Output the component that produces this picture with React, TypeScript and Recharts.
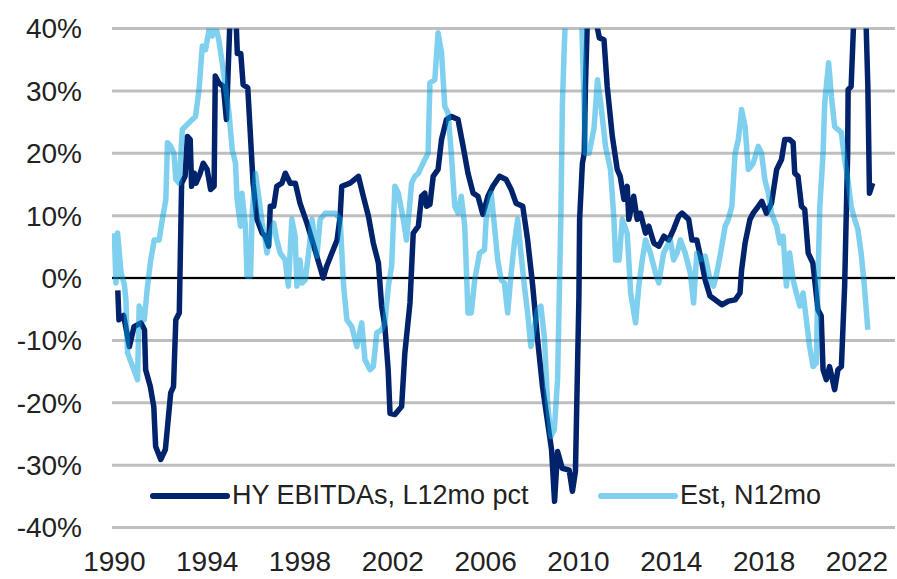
import React from 'react';
import { LineChart, Line, XAxis, YAxis, CartesianGrid, ReferenceLine, Legend } from 'recharts';

const FONT = '"Liberation Sans", Arial, sans-serif';

const yearTicks = [1990, 1994, 1998, 2002, 2006, 2010, 2014, 2018, 2022];
const pctTicks = [-40, -30, -20, -10, 0, 10, 20, 30, 40];

const seriesNames = ['HY EBITDAs, L12mo pct', 'Est, N12mo'];

// HY EBITDAs, L12mo pct (values above 40% are clipped by the axis)
const ebitdaYears = [
  1990.15, 1990.2, 1990.4, 1990.65, 1990.85, 1991.15, 1991.3, 1991.35, 1991.55, 1991.7,
  1991.78, 1992.0, 1992.2, 1992.43, 1992.55, 1992.65, 1992.8, 1992.9, 1993.05, 1993.15,
  1993.27, 1993.33, 1993.45, 1993.52, 1993.7, 1993.83, 1994.0, 1994.15, 1994.3, 1994.35,
  1994.5, 1994.7, 1994.83, 1994.97, 1995.05, 1995.2, 1995.3, 1995.45, 1995.55, 1995.75,
  1995.98, 1996.15, 1996.37, 1996.5, 1996.65, 1996.72, 1996.87, 1997.0, 1997.22, 1997.37,
  1997.58, 1997.8, 1998.0, 1998.3, 1998.6, 1999.0, 1999.15, 1999.6, 1999.73, 1999.8,
  2000.16, 2000.52, 2000.73, 2000.95, 2001.16, 2001.38, 2001.52, 2001.66, 2001.8, 2001.88,
  2002.09, 2002.38, 2002.52, 2002.74, 2002.88, 2003.1, 2003.24, 2003.38, 2003.45, 2003.6,
  2003.74, 2003.95, 2004.1, 2004.31, 2004.53, 2004.81, 2005.03, 2005.24, 2005.46, 2005.67,
  2005.88, 2006.1, 2006.31, 2006.6, 2006.88, 2007.1, 2007.31, 2007.6, 2007.81, 2008.03,
  2008.24, 2008.45, 2008.74, 2008.84, 2008.97, 2009.1, 2009.3, 2009.6, 2009.74, 2009.87,
  2010.02, 2010.05, 2010.17, 2010.25, 2010.3, 2010.39, 2010.6, 2010.82, 2010.9, 2011.1,
  2011.24, 2011.46, 2011.67, 2011.8, 2011.96, 2012.1, 2012.17, 2012.38, 2012.53, 2012.67,
  2012.89, 2013.03, 2013.25, 2013.46, 2013.68, 2013.89, 2014.1, 2014.32, 2014.46, 2014.75,
  2014.89, 2015.1, 2015.32, 2015.46, 2015.67, 2015.89, 2016.18, 2016.46, 2016.75, 2016.96,
  2017.03, 2017.18, 2017.39, 2017.53, 2017.75, 2017.9, 2018.1, 2018.32, 2018.54, 2018.75,
  2018.89, 2019.1, 2019.25, 2019.32, 2019.46, 2019.61, 2019.75, 2019.9, 2020.1, 2020.18,
  2020.32, 2020.46, 2020.54, 2020.68, 2020.82, 2021.04, 2021.18, 2021.33, 2021.47, 2021.6,
  2021.62, 2021.75, 2021.9, 2022.1, 2022.35, 2022.4, 2022.47, 2022.54, 2022.68,
];
const ebitdaPct = [
  -2, -6.7, -6, -11, -7.8, -7.2, -8.3, -14.7, -17.4, -20.6,
  -27, -29.1, -27.5, -18.4, -17.4, -6.7, -5.6, 15.2, 16.3, 22.7,
  22.2, 14.7, 16.8, 15.2, 16.8, 18.4, 17.4, 14.2, 14.7, 32.4,
  31.3, 30.7, 25.4, 40, 46, 46, 36, 36, 31, 30.5,
  15.2, 9.4, 7.2, 6.7, 5.1, 11.5, 11.5, 14.7, 15.2, 16.8,
  15.2, 15.2, 12, 8.8, 5.1, 0, 1.9, 6.1, 9.9, 14.7,
  15.2, 16.3, 13.1, 9.9, 5.6, 2.4, -4.5, -7.8, -14.7, -21.7,
  -21.9, -20.6, -12, -4, 7.2, 8.3, 13.1, 13.6, 11.5, 11.8,
  16.3, 17.4, 22.2, 25.4, 25.9, 25.4, 21.1, 16.8, 13.6, 13.1,
  10.2, 13.1, 14.7, 16.3, 15.8, 14.2, 12, 11.5, 6.1, -1.3,
  -9.9, -17.4, -24.9, -27.5, -35.8, -27.8, -30.5, -30.8, -34.2, -31,
  -3, 9.4, 18.4, 20, 30.7, 42, 46, 40, 38.5, 38.2,
  30.7, 22.7, 17.4, 16.3, 12.6, 14.7, 9.4, 13.1, 9.4, 10.4,
  7.2, 8.3, 5.6, 5.1, 6.7, 6.1, 7.8, 9.9, 10.4, 9.4,
  6.1, 6.1, 2.4, -0.3, -2.9, -3.5, -4.3, -3.7, -3.5, -2.4,
  1.3, 5.6, 9.4, 10.4, 11.5, 12.3, 10.4, 12, 17.4, 19,
  22.2, 22.2, 21.7, 16.8, 16.3, 11.5, 11, 4, 2.4, -0.3,
  -5.1, -6.1, -14.7, -16.3, -14.2, -17.9, -14.7, -14.2, -1.3, 20,
  30.2, 30.7, 45, 52, 45, 40, 30.7, 13.6, 15.2,
];

// Est, N12mo
const estYears = [
  1990.0, 1990.07, 1990.14, 1990.29, 1990.43, 1990.5, 1990.57, 1990.79, 1991.0, 1991.07,
  1991.29, 1991.43, 1991.57, 1991.72, 1991.93, 1992.07, 1992.22, 1992.29, 1992.43, 1992.57,
  1992.65, 1992.79, 1992.93, 1993.22, 1993.36, 1993.5, 1993.65, 1993.79, 1993.93, 1994.08,
  1994.22, 1994.36, 1994.5, 1994.65, 1994.79, 1994.94, 1995.08, 1995.22, 1995.29, 1995.44,
  1995.5, 1995.65, 1995.72, 1995.87, 1995.94, 1996.08, 1996.22, 1996.37, 1996.5, 1996.58,
  1996.72, 1996.87, 1997.0, 1997.15, 1997.36, 1997.5, 1997.65, 1997.79, 1997.87, 1998.0,
  1998.09, 1998.23, 1998.37, 1998.52, 1998.73, 1998.87, 1999.09, 1999.3, 1999.52, 1999.73,
  1999.88, 2000.02, 2000.23, 2000.45, 2000.66, 2000.8, 2001.02, 2001.16, 2001.31, 2001.52,
  2001.66, 2001.81, 2001.95, 2002.09, 2002.24, 2002.45, 2002.59, 2002.81, 2002.95, 2003.1,
  2003.24, 2003.38, 2003.52, 2003.6, 2003.81, 2003.95, 2004.1, 2004.24, 2004.38, 2004.52,
  2004.67, 2004.81, 2004.95, 2005.1, 2005.24, 2005.38, 2005.53, 2005.74, 2005.95, 2006.02,
  2006.24, 2006.38, 2006.52, 2006.67, 2006.81, 2006.95, 2007.1, 2007.24, 2007.38, 2007.52,
  2007.67, 2007.81, 2007.95, 2008.1, 2008.24, 2008.38, 2008.53, 2008.67, 2008.81, 2008.96,
  2009.1, 2009.24, 2009.31, 2009.38, 2009.46, 2009.7, 2010.0, 2010.15, 2010.3, 2010.46,
  2010.67, 2010.82, 2010.96, 2011.17, 2011.38, 2011.53, 2011.6, 2011.75, 2011.89, 2012.1,
  2012.25, 2012.46, 2012.6, 2012.75, 2012.89, 2013.1, 2013.32, 2013.46, 2013.67, 2013.82,
  2013.96, 2014.1, 2014.25, 2014.39, 2014.6, 2014.82, 2014.96, 2015.1, 2015.25, 2015.46,
  2015.67, 2015.82, 2015.96, 2016.1, 2016.32, 2016.46, 2016.61, 2016.75, 2016.89, 2017.03,
  2017.18, 2017.32, 2017.53, 2017.75, 2017.89, 2018.03, 2018.18, 2018.32, 2018.54, 2018.68,
  2018.82, 2018.96, 2019.1, 2019.25, 2019.39, 2019.54, 2019.68, 2019.82, 2019.96, 2020.11,
  2020.25, 2020.32, 2020.4, 2020.54, 2020.61, 2020.68, 2020.78, 2020.9, 2021.04, 2021.18,
  2021.33, 2021.47, 2021.61, 2021.75, 2021.9, 2022.04, 2022.18, 2022.32, 2022.47,
];
const estPct = [
  7.2, -0.8, 7.2, 0.8, -1, -3.5, -12, -14.2, -16.3, -4.5,
  -6.7, -1.3, 2.9, 6.1, 6.1, 9.4, 12.6, 21.7, 21.1, 20,
  15.8, 15.2, 23.8, 24.9, 25.4, 25.9, 30.2, 37.2, 36.6, 39.8,
  38.8, 40.5, 38.2, 34.5, 30.7, 26.5, 20.6, 18.4, 12.6, 8.3,
  13.6, 8.3, 0.3, 0.3, 10.4, 16.8, 13.1, 8.8, 6.1, 4,
  7.2, 8.8, 6.1, 4, 2.9, -1.3, 9.4, 6.7, -1.3, 2.9,
  -0.8, -0.3, 4, 9.4, 3.5, 9.4, 10.4, 10.4, 10.4, 9.4,
  -1.3, -6.7, -7.8, -11, -7.2, -13.1, -14.7, -14.2, -8.8, -8.3,
  -7.2, -1.3, 1.9, 14.7, 13.6, 9.4, 6.1, 15.2, 16.3, 16.8,
  17.9, 19, 20, 31.3, 31.8, 39.3, 36.1, 27.5, 26.5, 20,
  11.5, 10.4, 13.1, 8.3, -5.6, -5.6, -0.3, 4, 4.5, 9.4,
  13.6, 8.3, 2.9, -0.3, -0.8, -5.6, 0.8, 5.6, 9.4, 4,
  -1.3, -5.6, -11, -7.8, -5.1, -4.5, -9.4, -20, -25.4, -24.3,
  -16.3, 9.4, 28.1, 36.1, 44, 48, 44, 40, 20, 20,
  24, 31.8, 28, 21, 17.4, 9.4, 2.9, 2.9, 9.4, 7.2,
  -2.4, -7.2, -1.3, 2.9, 6.1, 4, 0.8, -0.8, 4, 5.1,
  6.1, 2.9, 4, 6.1, 4, 0.8, -4, 4, 2.9, 3.5,
  -0.3, -1.3, 0.8, 3.5, 8.3, 9.4, 11.5, 20, 22.2, 27,
  24.3, 17.4, 18.4, 21.1, 20, 15.8, 13.6, 10.4, 8.3, 5.6,
  6.7, -1.3, 4, -0.3, -2.4, -4.5, -2.4, -6.7, -11, -14.2,
  -13.6, -0.3, 11.5, 20, 28, 30.7, 34.5, 29.1, 24.3, 23.8,
  23.3, 19, 15.8, 11.5, 9.4, 7.8, 4, -1.3, -8.3,
];

const ebitdaData = ebitdaYears.map((year, i) => ({ year, value: ebitdaPct[i] }));
const estData = estYears.map((year, i) => ({ year, value: estPct[i] }));

const NAVY = '#00236b';
const SKY = '#00a0e0';
const SKY_OPACITY = 0.5;

const renderLegend = (props: any) => {
  const payload: any[] = props.payload || [];
  const ordered = seriesNames
    .map((name) => payload.find((p) => p.value === name))
    .filter(Boolean);
  return (
    <div style={{ display: 'flex', alignItems: 'center', fontFamily: FONT, fontSize: 27, color: '#222' }}>
      {ordered.map((entry: any, i: number) => (
        <div
          key={entry.value}
          style={{ display: 'flex', alignItems: 'center', width: i === 0 ? 448 : undefined }}
        >
          <svg width={80} height={10} style={{ display: 'block' }}>
            <line
              x1={3}
              y1={5}
              x2={77}
              y2={5}
              stroke={entry.color}
              strokeOpacity={entry.color === SKY ? SKY_OPACITY : 1}
              strokeWidth={6}
              strokeLinecap="round"
            />
          </svg>
          <span style={{ marginLeft: 2, whiteSpace: 'nowrap' }}>{entry.value}</span>
        </div>
      ))}
    </div>
  );
};

const App: React.FC = () => {
  return (
    <div style={{ position: 'absolute', left: 0, top: 0, background: '#fff' }}>
      <LineChart width={897} height={579} margin={{ top: 28.5, right: 2, bottom: 0, left: 0 }}>
        <CartesianGrid vertical={false} stroke="#bfbfbf" strokeWidth={3} />
        <XAxis
          type="number"
          dataKey="year"
          domain={[1989.9, 2023.64]}
          ticks={yearTicks}
          allowDataOverflow
          axisLine={false}
          tickLine={false}
          tickSize={0}
          tickMargin={24}
          height={51.5}
          tick={{ fontFamily: FONT, fontSize: 28, fill: '#222' }}
        />
        <YAxis
          type="number"
          domain={[-40, 40]}
          ticks={pctTicks}
          allowDataOverflow
          axisLine={false}
          tickLine={false}
          tickSize={0}
          tickMargin={30}
          width={112}
          tickFormatter={(v: number) => `${v}%`}
          tick={{ fontFamily: FONT, fontSize: 28, fill: '#222' }}
        />
        <ReferenceLine y={0} stroke="#000" strokeWidth={2} />
        <Line
          data={ebitdaData}
          dataKey="value"
          name={seriesNames[0]}
          type="linear"
          stroke={NAVY}
          strokeWidth={5.5}
          strokeLinejoin="round"
          dot={false}
          activeDot={false}
          isAnimationActive={false}
        />
        <Line
          data={estData}
          dataKey="value"
          name={seriesNames[1]}
          type="linear"
          stroke={SKY}
          strokeOpacity={SKY_OPACITY}
          strokeWidth={5.5}
          strokeLinejoin="round"
          dot={false}
          activeDot={false}
          isAnimationActive={false}
        />
        <Legend
          layout="horizontal"
          verticalAlign="middle"
          align="center"
          content={renderLegend}
          wrapperStyle={{ left: 150, top: 480, width: 720 }}
        />
      </LineChart>
    </div>
  );
};

export default App;
